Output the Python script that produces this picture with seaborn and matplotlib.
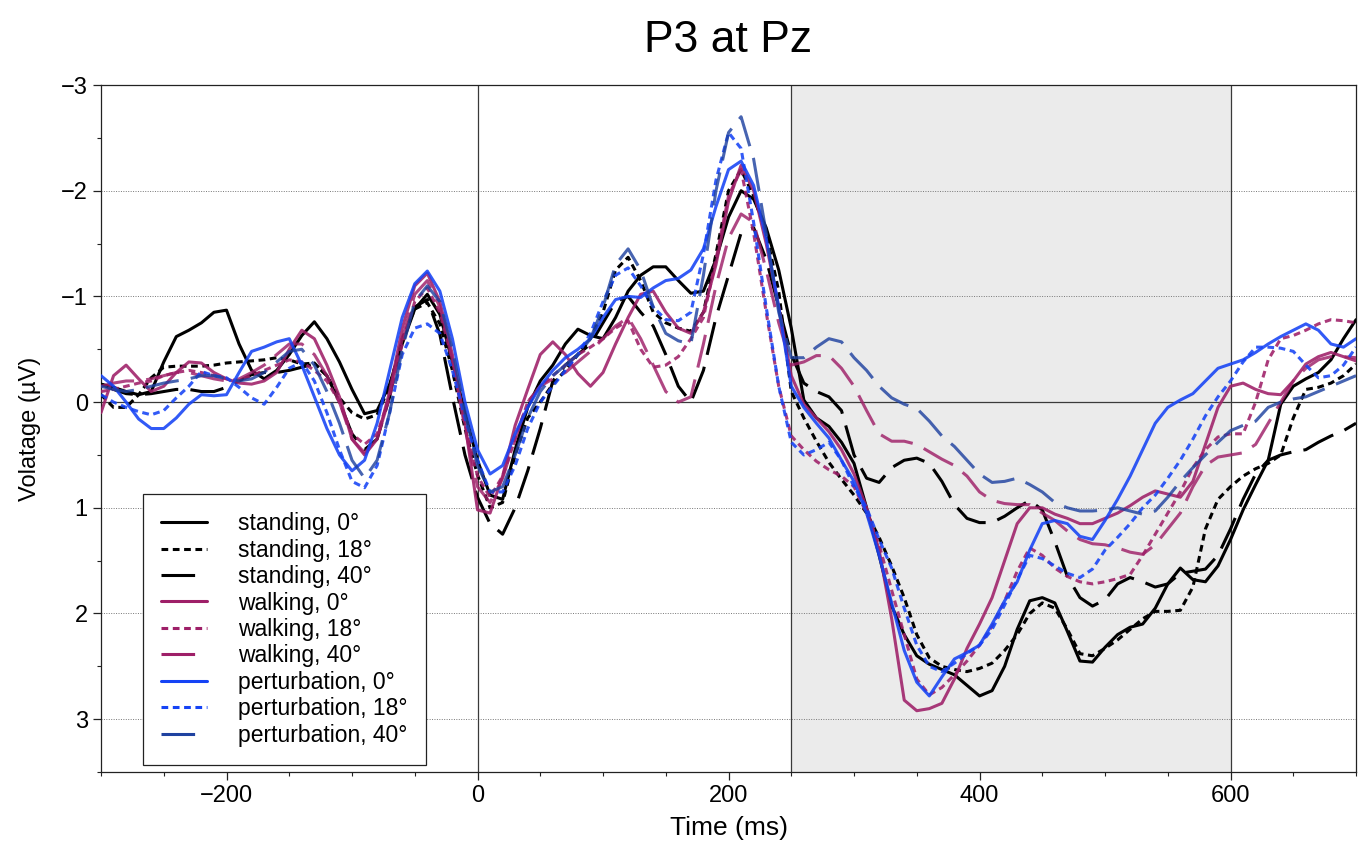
import numpy as np
import pandas as pd
import matplotlib
matplotlib.use("Agg")
import matplotlib.pyplot as plt
from matplotlib.ticker import MultipleLocator
import seaborn as sns

# ---------------- data (µV, sampled every 10 ms) ----------------
time_ms = list(range(-300, 701, 10))

standing_0 = [
    -0.17, -0.14, -0.10, -0.07, -0.10, -0.38, -0.62, -0.68, -0.75, -0.85,
    -0.87, -0.55, -0.30, -0.22, -0.30, -0.45, -0.63, -0.76, -0.60, -0.38,
    -0.12, 0.11, 0.08, -0.17, -0.55, -0.88, -1.02, -0.83, -0.38, 0.10,
    0.55, 0.88, 0.92, 0.45, 0.05, -0.20, -0.35, -0.55, -0.69, -0.63,
    -0.60, -0.80, -1.05, -1.20, -1.28, -1.28, -1.15, -1.03, -1.05, -1.35,
    -1.75, -2.00, -1.92, -1.65, -1.25, -0.70, -0.02, 0.15, 0.23, 0.38,
    0.58, 1.00, 1.45, 1.93, 2.20, 2.40, 2.48, 2.53, 2.58, 2.68,
    2.78, 2.73, 2.50, 2.15, 1.88, 1.85, 1.90, 2.17, 2.45, 2.46,
    2.32, 2.20, 2.13, 2.10, 1.95, 1.72, 1.57, 1.68, 1.70, 1.55,
    1.30, 1.02, 0.78, 0.55, 0.02, -0.15, -0.22, -0.28, -0.40, -0.60,
    -0.78]

standing_18 = [
    -0.07, 0.05, 0.05, -0.07, -0.23, -0.33, -0.34, -0.34, -0.34, -0.35,
    -0.37, -0.38, -0.39, -0.40, -0.42, -0.40, -0.36, -0.37, -0.25, -0.04,
    0.10, 0.16, 0.12, -0.15, -0.60, -0.88, -0.94, -0.74, -0.30, 0.25,
    0.69, 1.00, 0.95, 0.50, 0.15, 0.00, -0.17, -0.30, -0.45, -0.60,
    -0.85, -1.25, -1.37, -1.15, -0.85, -0.75, -0.70, -0.67, -0.85, -1.40,
    -2.00, -2.20, -1.95, -1.60, -1.05, -0.10, 0.15, 0.37, 0.57, 0.73,
    0.88, 1.05, 1.28, 1.55, 1.85, 2.20, 2.42, 2.50, 2.53, 2.55,
    2.52, 2.47, 2.35, 2.20, 2.00, 1.90, 1.95, 2.15, 2.38, 2.40,
    2.33, 2.25, 2.15, 2.05, 1.98, 1.98, 1.97, 1.75, 1.20, 0.92,
    0.80, 0.70, 0.63, 0.58, 0.50, 0.15, -0.12, -0.14, -0.18, -0.25,
    -0.36]

standing_40 = [
    -0.17, -0.12, -0.08, -0.07, -0.08, -0.10, -0.12, -0.12, -0.10, -0.10,
    -0.14, -0.20, -0.26, -0.28, -0.28, -0.30, -0.33, -0.36, -0.25, 0.00,
    0.30, 0.45, 0.35, -0.05, -0.60, -0.90, -0.97, -0.64, -0.05, 0.50,
    0.90, 1.15, 1.25, 1.00, 0.65, 0.25, -0.20, -0.35, -0.45, -0.55,
    -0.75, -0.95, -1.00, -0.85, -0.72, -0.45, -0.15, 0.00, -0.30, -0.80,
    -1.20, -1.60, -1.65, -1.35, -0.90, -0.45, -0.18, -0.10, -0.05, 0.08,
    0.50, 0.72, 0.76, 0.62, 0.55, 0.53, 0.58, 0.75, 0.97, 1.10,
    1.14, 1.14, 1.08, 1.00, 0.93, 1.02, 1.32, 1.65, 1.85, 1.93,
    1.87, 1.72, 1.66, 1.70, 1.75, 1.72, 1.62, 1.60, 1.58, 1.45,
    1.20, 0.92, 0.68, 0.55, 0.50, 0.47, 0.45, 0.38, 0.32, 0.27,
    0.20]

walking_0 = [
    0.10, -0.25, -0.35, -0.22, -0.10, -0.15, -0.28, -0.38, -0.37, -0.28,
    -0.22, -0.18, -0.17, -0.20, -0.28, -0.50, -0.68, -0.60, -0.35, -0.05,
    0.35, 0.50, 0.35, -0.10, -0.70, -1.10, -1.22, -0.95, -0.45, 0.20,
    1.02, 1.05, 0.70, 0.22, -0.12, -0.45, -0.57, -0.45, -0.27, -0.15,
    -0.28, -0.55, -0.80, -1.02, -1.05, -0.85, -0.70, -0.65, -0.85, -1.30,
    -1.90, -2.24, -2.00, -1.50, -0.90, -0.25, 0.02, 0.15, 0.28, 0.45,
    0.68, 1.00, 1.40, 2.05, 2.82, 2.92, 2.90, 2.85, 2.62, 2.33,
    2.10, 1.85, 1.50, 1.15, 1.00, 1.00, 1.06, 1.10, 1.15, 1.15,
    1.10, 1.05, 0.98, 0.90, 0.84, 0.87, 0.90, 0.75, 0.40, 0.05,
    -0.15, -0.18, -0.12, -0.08, -0.07, -0.20, -0.36, -0.43, -0.47, -0.43,
    -0.39]

walking_18 = [
    -0.10, -0.12, -0.15, -0.18, -0.20, -0.25, -0.28, -0.30, -0.28, -0.25,
    -0.22, -0.20, -0.25, -0.30, -0.35, -0.40, -0.38, -0.30, -0.20, 0.00,
    0.30, 0.40, 0.30, -0.05, -0.55, -0.95, -1.08, -0.85, -0.40, 0.20,
    0.70, 0.90, 0.70, 0.35, 0.00, -0.15, -0.25, -0.35, -0.45, -0.52,
    -0.60, -0.70, -0.77, -0.50, -0.33, -0.35, -0.43, -0.60, -0.80, -1.35,
    -1.95, -2.20, -1.60, -0.85, -0.15, 0.32, 0.45, 0.56, 0.64, 0.70,
    0.80, 1.05, 1.35, 1.78, 2.20, 2.62, 2.77, 2.70, 2.58, 2.45,
    2.30, 2.12, 1.88, 1.60, 1.38, 1.45, 1.57, 1.65, 1.70, 1.72,
    1.70, 1.67, 1.63, 1.45, 1.25, 1.05, 0.85, 0.62, 0.45, 0.33,
    0.30, 0.30, 0.00, -0.40, -0.60, -0.63, -0.68, -0.74, -0.78, -0.77,
    -0.75]

walking_40 = [
    -0.15, -0.18, -0.20, -0.20, -0.22, -0.25, -0.28, -0.28, -0.25, -0.22,
    -0.20, -0.22, -0.28, -0.35, -0.45, -0.55, -0.55, -0.45, -0.25, 0.00,
    0.35, 0.48, 0.35, -0.05, -0.60, -1.02, -1.15, -0.90, -0.40, 0.25,
    0.80, 0.95, 0.72, 0.35, 0.00, -0.15, -0.22, -0.28, -0.38, -0.48,
    -0.60, -0.72, -0.80, -0.60, -0.35, -0.10, 0.00, -0.05, -0.55, -1.10,
    -1.55, -1.78, -1.70, -1.25, -0.75, -0.35, -0.38, -0.44, -0.44, -0.32,
    -0.15, 0.08, 0.30, 0.37, 0.37, 0.40, 0.47, 0.54, 0.60, 0.70,
    0.85, 0.93, 0.96, 0.97, 0.97, 1.05, 1.12, 1.22, 1.30, 1.34,
    1.35, 1.38, 1.42, 1.44, 1.35, 1.20, 1.05, 0.80, 0.60, 0.52,
    0.50, 0.48, 0.40, 0.20, 0.00, -0.20, -0.32, -0.40, -0.43, -0.43,
    -0.42]

perturbation_0 = [
    -0.25, -0.15, 0.00, 0.16, 0.25, 0.25, 0.15, 0.02, -0.07, -0.06,
    -0.07, -0.28, -0.48, -0.52, -0.57, -0.60, -0.35, -0.05, 0.25, 0.50,
    0.65, 0.55, 0.20, -0.30, -0.80, -1.12, -1.24, -1.05, -0.60, 0.00,
    0.45, 0.68, 0.60, 0.30, 0.05, -0.15, -0.30, -0.42, -0.50, -0.60,
    -0.80, -0.97, -1.00, -0.99, -1.08, -1.15, -1.17, -1.25, -1.45, -1.85,
    -2.20, -2.28, -2.05, -1.55, -0.90, -0.15, 0.05, 0.20, 0.34, 0.55,
    0.75, 1.05, 1.45, 1.90, 2.35, 2.65, 2.78, 2.60, 2.43, 2.37,
    2.30, 2.10, 1.88, 1.70, 1.40, 1.15, 1.12, 1.15, 1.27, 1.30,
    1.12, 0.92, 0.70, 0.45, 0.20, 0.05, -0.02, -0.08, -0.20, -0.32,
    -0.36, -0.40, -0.47, -0.55, -0.62, -0.68, -0.74, -0.68, -0.55, -0.52,
    -0.60]

perturbation_18 = [
    -0.07, 0.00, 0.05, 0.09, 0.12, 0.08, -0.04, -0.15, -0.29, -0.25,
    -0.23, -0.14, -0.04, 0.02, -0.14, -0.32, -0.38, -0.20, 0.10, 0.45,
    0.75, 0.81, 0.60, 0.10, -0.45, -0.70, -0.74, -0.65, -0.30, 0.15,
    0.55, 0.85, 0.85, 0.60, 0.25, 0.00, -0.15, -0.30, -0.45, -0.65,
    -0.95, -1.20, -1.27, -1.10, -0.90, -0.78, -0.77, -0.85, -1.40, -2.10,
    -2.55, -2.40, -1.70, -0.90, -0.15, 0.38, 0.50, 0.45, 0.38, 0.55,
    0.80, 1.00, 1.30, 1.57, 1.95, 2.30, 2.50, 2.55, 2.47, 2.38,
    2.30, 2.15, 1.92, 1.68, 1.45, 1.48, 1.55, 1.62, 1.66, 1.58,
    1.40, 1.28, 1.15, 1.00, 0.88, 0.72, 0.55, 0.35, 0.13, -0.05,
    -0.20, -0.38, -0.52, -0.52, -0.51, -0.48, -0.35, -0.23, -0.25, -0.35,
    -0.52]

perturbation_40 = [
    -0.15, -0.12, -0.10, -0.12, -0.15, -0.18, -0.20, -0.22, -0.25, -0.25,
    -0.22, -0.20, -0.22, -0.28, -0.38, -0.48, -0.50, -0.35, -0.10, 0.20,
    0.55, 0.72, 0.55, 0.10, -0.50, -0.95, -1.10, -0.95, -0.50, 0.10,
    0.60, 0.85, 0.80, 0.50, 0.15, -0.10, -0.25, -0.35, -0.45, -0.60,
    -0.90, -1.30, -1.45, -1.25, -0.90, -0.65, -0.58, -0.55, -1.20, -2.00,
    -2.55, -2.70, -2.30, -1.60, -0.85, -0.42, -0.42, -0.52, -0.60, -0.57,
    -0.42, -0.30, -0.15, -0.04, 0.02, 0.06, 0.18, 0.32, 0.42, 0.55,
    0.68, 0.76, 0.75, 0.72, 0.78, 0.85, 0.95, 1.00, 1.03, 1.03,
    1.02, 1.00, 1.03, 1.06, 1.03, 0.90, 0.75, 0.62, 0.50, 0.38,
    0.27, 0.22, 0.18, 0.05, 0.00, -0.03, -0.05, -0.10, -0.15, -0.20,
    -0.25]

series_labels = [
    "standing, 0°", "standing, 18°", "standing, 40°",
    "walking, 0°", "walking, 18°", "walking, 40°",
    "perturbation, 0°", "perturbation, 18°", "perturbation, 40°",
]
series_values = [standing_0, standing_18, standing_40,
                 walking_0, walking_18, walking_40,
                 perturbation_0, perturbation_18, perturbation_40]

x_ticks = [-200, 0, 200, 400, 600]
y_ticks = [-3, -2, -1, 0, 1, 2, 3]

# ---------------- styling ----------------
sns.set_theme(style="ticks")
plt.rcParams["font.family"] = ["Liberation Sans", "DejaVu Sans"]
plt.rcParams["axes.unicode_minus"] = True
plt.rcParams["text.color"] = "black"
plt.rcParams["axes.labelcolor"] = "black"
plt.rcParams["xtick.color"] = "black"
plt.rcParams["ytick.color"] = "black"

c_black = "#000000"
c_walk = "#9E1F68"
c_pert = "#1543F5"
c_pert40 = "#1F42A0"
colors = [c_black, c_black, c_black, c_walk, c_walk, c_walk, c_pert, c_pert, c_pert40]
alphas = [1, 1, 1, 0.88, 0.88, 0.82, 0.88, 0.88, 0.82]
short_dash = (0, (2.2, 1.5))
long_dash = (0, (11, 4.0))
styles = ["-", short_dash, long_dash] * 3

fig = plt.figure(figsize=(13.63, 8.58), dpi=100)
ax = fig.add_axes([0.0741, 0.1002, 0.9208, 0.8007])

ax.axvspan(250, 600, color="#EBEBEB", zorder=0, lw=0)

for vals, lab, col, ls, a in zip(series_values, series_labels, colors, styles, alphas):
    df = pd.DataFrame({"time": time_ms, "value": vals})
    sns.lineplot(data=df, x="time", y="value", ax=ax, color=col, lw=2.2,
                 linestyle=ls, alpha=a, label=lab, errorbar=None, zorder=3,
                 solid_joinstyle="round", dash_joinstyle="round")

for xv in (0, 250, 600):
    ax.axvline(xv, color="#3a3a3a", lw=0.9, zorder=1)
ax.axhline(0, color="#3a3a3a", lw=0.9, zorder=1)

ax.set_xlim(-300, 700)
ax.set_ylim(3.5, -3)
ax.set_xticks(x_ticks)
ax.set_yticks(y_ticks)
ax.xaxis.set_minor_locator(MultipleLocator(50))
ax.yaxis.set_minor_locator(MultipleLocator(0.5))
ax.tick_params(axis="both", which="major", direction="out", length=6, width=0.9,
               labelsize=17, colors="#222222", labelcolor="black")
ax.tick_params(axis="both", which="minor", direction="out", length=3, width=0.8,
               colors="#222222")
ax.yaxis.grid(True, which="major", linestyle=(0, (1, 1.5)), color="#777777", lw=0.7)
ax.xaxis.grid(False)

for sp in ax.spines.values():
    sp.set_visible(True)
    sp.set_color("#222222")
    sp.set_linewidth(0.9)

ax.set_xlabel("Time (ms)", fontsize=19, labelpad=6, color="black")
ax.set_ylabel("Volatage (µV)", fontsize=17, labelpad=14, color="black")
ax.set_title("P3 at Pz", fontsize=32, pad=24, color="black")

leg = ax.legend(loc="lower left", bbox_to_anchor=(0.0335, 0.0102), borderaxespad=0,
                fontsize=16.5, handlelength=2.0, handletextpad=1.35, labelspacing=0.15,
                borderpad=0.8, fancybox=False, framealpha=1, edgecolor="#222222")
leg.get_frame().set_linewidth(0.9)
for t in leg.get_texts():
    t.set_color("black")
for i, h in enumerate(leg.get_lines()):
    h.set_alpha(1)
    if i % 3 == 2:
        h.set_linestyle((0, (11, 20)))

fig.savefig("out.png", dpi=100)
